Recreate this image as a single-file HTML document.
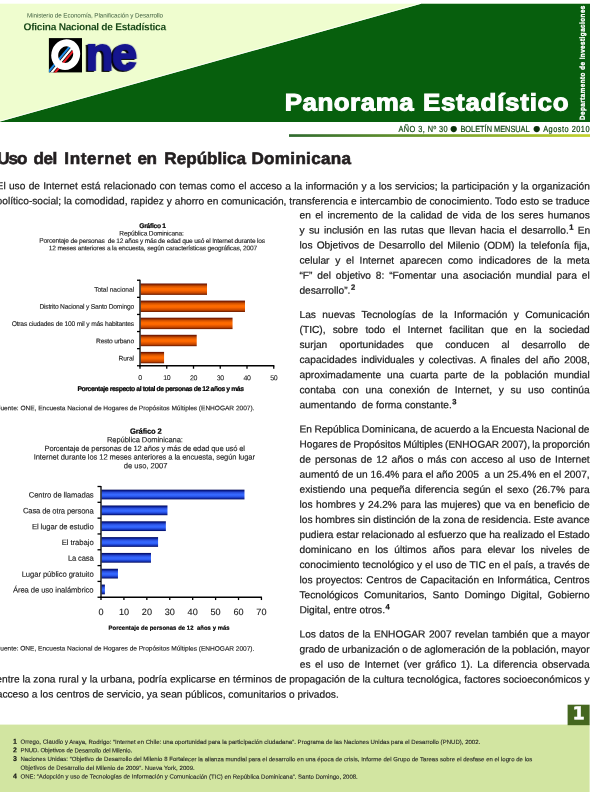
<!DOCTYPE html>
<html lang="es">
<head>
<meta charset="utf-8">
<title>Panorama Estadístico</title>
<style>
html,body{margin:0;padding:0;background:#fff;}
#pg{position:relative;width:612px;height:792px;overflow:hidden;background:#fff;font-family:"Liberation Sans",sans-serif;}
svg{position:absolute;left:0;top:0;}
svg text{font-family:"Liberation Sans",sans-serif;}
</style>
</head>
<body>
<div id="pg">
<svg width="612" height="792" viewBox="0 0 612 792">
  <defs>
    <linearGradient id="lg" x1="0" y1="0" x2="1" y2="0">
      <stop offset="0" stop-color="#2f6a2f"/>
      <stop offset="0.45" stop-color="#6e9a2c"/>
      <stop offset="1" stop-color="#c3d22e"/>
    </linearGradient>
    <clipPath id="sq"><rect x="48.9" y="38.1" width="33.1" height="34.3"/></clipPath>
    <clipPath id="hole"><ellipse cx="65.7" cy="54.6" rx="7.3" ry="8.4" transform="rotate(22 65.7 54.6)"/></clipPath>
  </defs>
  <!-- header -->
  <rect x="0" y="3.7" width="590" height="118.3" fill="#effdcf"/>
  <polygon points="0,121.5 421,3.7 590,3.7 590,122 0,122" fill="#075f0d"/>
  <line x1="-1" y1="121.4" x2="421" y2="3.3" stroke="#fff" stroke-width="0.9"/>
  <rect x="289" y="134.2" width="301" height="2.7" fill="url(#lg)"/>
  <!-- logo -->
  <rect x="48.9" y="38.1" width="33.1" height="34.3" fill="#000"/>
  <g clip-path="url(#sq)">
    <g stroke-width="2.1" stroke-linecap="butt">
      <line x1="47.5" y1="73" x2="72" y2="43.8" stroke="#1e8be6"/>
      <line x1="50.1" y1="74.2" x2="74.6" y2="45" stroke="#fff"/>
      <line x1="52.7" y1="75.4" x2="77.2" y2="46.2" stroke="#ee1c25"/>
    </g>
    <ellipse cx="65.7" cy="54.6" rx="10.8" ry="12" transform="rotate(22 65.7 54.6)" fill="none" stroke="#fff" stroke-width="7"/>
  </g>
  <!-- footer -->
  <rect x="0" y="724.6" width="589.6" height="67.4" fill="#d2e5a1"/>
  <rect x="567.6" y="704.7" width="22" height="20.5" fill="#45671f"/>
</svg>
<svg width="612" height="792" viewBox="0 0 612 792">
<defs>
<linearGradient id="og" x1="0" y1="0" x2="0" y2="1">
<stop offset="0" stop-color="#5a0800"/><stop offset="0.1" stop-color="#8a2800"/><stop offset="0.26" stop-color="#d85400"/><stop offset="0.45" stop-color="#ff6c00"/><stop offset="0.6" stop-color="#fb6600"/><stop offset="0.84" stop-color="#c44600"/><stop offset="0.93" stop-color="#8a2a00"/><stop offset="1" stop-color="#6a1c00"/>
</linearGradient>
<linearGradient id="bg" x1="0" y1="0" x2="0" y2="1">
<stop offset="0" stop-color="#00085a"/><stop offset="0.12" stop-color="#0a1e90"/><stop offset="0.3" stop-color="#2a50e0"/><stop offset="0.5" stop-color="#3669ff"/><stop offset="0.66" stop-color="#2f60f8"/><stop offset="0.85" stop-color="#1634b8"/><stop offset="0.94" stop-color="#081a80"/><stop offset="1" stop-color="#00085a"/>
</linearGradient>
</defs>
<rect x="140.60" y="283.50" width="66.41" height="11.4" fill="url(#og)"/>
<rect x="140.60" y="300.60" width="104.39" height="11.4" fill="url(#og)"/>
<rect x="140.60" y="317.70" width="91.95" height="11.4" fill="url(#og)"/>
<rect x="140.60" y="334.80" width="56.11" height="11.4" fill="url(#og)"/>
<rect x="140.60" y="351.90" width="23.47" height="11.4" fill="url(#og)"/>
<g stroke="#000" stroke-width="1.3" fill="none">
<path d="M140.0 279.65V366.35"/>
<path d="M137.00 280.25H140.0"/>
<path d="M137.00 297.35H140.0"/>
<path d="M137.00 314.45H140.0"/>
<path d="M137.00 331.55H140.0"/>
<path d="M137.00 348.65H140.0"/>
<path d="M137.00 365.75H140.0"/>
<path d="M139.4 365.75H274.35"/>
<path d="M140.00 365.75V368.75"/>
<path d="M166.75 365.75V368.75"/>
<path d="M193.50 365.75V368.75"/>
<path d="M220.25 365.75V368.75"/>
<path d="M247.00 365.75V368.75"/>
<path d="M273.75 365.75V368.75"/>
</g>
<rect x="101.50" y="489.65" width="142.98" height="9.75" fill="url(#bg)"/>
<rect x="101.50" y="505.47" width="65.97" height="9.75" fill="url(#bg)"/>
<rect x="101.50" y="521.29" width="64.36" height="9.75" fill="url(#bg)"/>
<rect x="101.50" y="537.11" width="56.57" height="9.75" fill="url(#bg)"/>
<rect x="101.50" y="552.93" width="49.47" height="9.75" fill="url(#bg)"/>
<rect x="101.50" y="568.75" width="16.46" height="9.75" fill="url(#bg)"/>
<rect x="101.50" y="584.57" width="3.40" height="9.75" fill="url(#bg)"/>
<g stroke="#000" stroke-width="1.3" fill="none">
<path d="M101.0 486.0V597.74"/>
<path d="M97.50 486.50H101.0"/>
<path d="M97.50 502.32H101.0"/>
<path d="M97.50 518.14H101.0"/>
<path d="M97.50 533.96H101.0"/>
<path d="M97.50 549.78H101.0"/>
<path d="M97.50 565.60H101.0"/>
<path d="M97.50 581.42H101.0"/>
<path d="M97.50 597.24H101.0"/>
<path d="M100.5 597.24H261.94"/>
<path d="M101.00 597.24V600.04"/>
<path d="M123.92 597.24V600.04"/>
<path d="M146.84 597.24V600.04"/>
<path d="M169.76 597.24V600.04"/>
<path d="M192.68 597.24V600.04"/>
<path d="M215.60 597.24V600.04"/>
<path d="M238.52 597.24V600.04"/>
<path d="M261.44 597.24V600.04"/>
</g>
</svg>
<svg id="tx" width="612" height="792" viewBox="0 0 612 792" style="transform:rotate(0.03deg)">
<text x="-3.50" y="189.40" font-size="10.2" fill="#1d1d1d" stroke="#1d1d1d" stroke-width="0.22" style="word-spacing:0.452px;">El uso de Internet está relacionado con temas como el acceso a la información y a los servicios; la participación y la organización</text>
<text x="-3.50" y="204.46" font-size="10.2" fill="#1d1d1d" stroke="#1d1d1d" stroke-width="0.22" style="word-spacing:0.065px;">político-social; la comodidad, rapidez y ahorro en comunicación, transferencia e intercambio de conocimiento. Todo esto se traduce</text>
<text x="299.40" y="218.45" font-size="10.2" fill="#1d1d1d" stroke="#1d1d1d" stroke-width="0.22" style="word-spacing:1.524px;">en el incremento de la calidad de vida de los seres humanos</text>
<text x="299.40" y="233.51" font-size="10.2" fill="#1d1d1d" stroke="#1d1d1d" stroke-width="0.22" style="word-spacing:1.500px;">y su inclusión en las rutas que llevan hacia el desarrollo.<tspan dx="0.5" dy="-4.0" font-size="7.6" font-weight="bold" stroke-width="0.25">1</tspan><tspan dy="4.0"> En</tspan></text>
<text x="299.40" y="248.57" font-size="10.2" fill="#1d1d1d" stroke="#1d1d1d" stroke-width="0.22" style="word-spacing:1.365px;">los Objetivos de Desarrollo del Milenio (ODM) la telefonía fija,</text>
<text x="299.40" y="263.63" font-size="10.2" fill="#1d1d1d" stroke="#1d1d1d" stroke-width="0.22" style="word-spacing:2.870px;">celular y el Internet aparecen como indicadores de la meta</text>
<text x="299.40" y="278.69" font-size="10.2" fill="#1d1d1d" stroke="#1d1d1d" stroke-width="0.22" style="word-spacing:2.054px;">“F” del objetivo 8: “Fomentar una asociación mundial para el</text>
<text x="299.40" y="293.75" font-size="10.2" fill="#1d1d1d" stroke="#1d1d1d" stroke-width="0.22">desarrollo”.<tspan dx="0.5" dy="-4.0" font-size="7.6" font-weight="bold" stroke-width="0.25">2</tspan></text>
<text x="299.50" y="317.90" font-size="10.2" fill="#1d1d1d" stroke="#1d1d1d" stroke-width="0.22" style="word-spacing:3.542px;">Las nuevas Tecnologías de la Información y Comunicación</text>
<text x="299.50" y="332.96" font-size="10.2" fill="#1d1d1d" stroke="#1d1d1d" stroke-width="0.22" style="word-spacing:4.369px;">(TIC), sobre todo el Internet facilitan que en la sociedad</text>
<text x="299.50" y="348.02" font-size="10.2" fill="#1d1d1d" stroke="#1d1d1d" stroke-width="0.22" style="word-spacing:9.286px;">surjan oportunidades que conducen al desarrollo de</text>
<text x="299.50" y="363.08" font-size="10.2" fill="#1d1d1d" stroke="#1d1d1d" stroke-width="0.22" style="word-spacing:1.656px;">capacidades individuales y colectivas. A finales del año 2008,</text>
<text x="299.50" y="378.14" font-size="10.2" fill="#1d1d1d" stroke="#1d1d1d" stroke-width="0.22" style="word-spacing:3.107px;">aproximadamente una cuarta parte de la población mundial</text>
<text x="299.50" y="393.20" font-size="10.2" fill="#1d1d1d" stroke="#1d1d1d" stroke-width="0.22" style="word-spacing:3.863px;">contaba con una conexión de Internet, y su uso continúa</text>
<text x="299.50" y="408.26" font-size="10.2" fill="#1d1d1d" stroke="#1d1d1d" stroke-width="0.22">aumentando  de forma constante.<tspan dx="0.5" dy="-4.0" font-size="7.6" font-weight="bold" stroke-width="0.25">3</tspan></text>
<text transform="translate(299.60 432.55) scale(0.9953252991379682 1)" font-size="10.2" fill="#1d1d1d" stroke="#1d1d1d" stroke-width="0.22" style="word-spacing:-0.400px;">En República Dominicana, de acuerdo a la Encuesta Nacional de</text>
<text transform="translate(299.60 447.61) scale(0.9832440104221832 1)" font-size="10.2" fill="#1d1d1d" stroke="#1d1d1d" stroke-width="0.22" style="word-spacing:-0.400px;">Hogares de Propósitos Múltiples (ENHOGAR 2007), la proporción</text>
<text x="299.60" y="462.67" font-size="10.2" fill="#1d1d1d" stroke="#1d1d1d" stroke-width="0.22" style="word-spacing:1.191px;">de personas de 12 años o más con acceso al uso de Internet</text>
<text x="299.60" y="477.73" font-size="10.2" fill="#1d1d1d" stroke="#1d1d1d" stroke-width="0.22" style="word-spacing:0.046px;">aumentó de un 16.4% para el año 2005  a un 25.4% en el 2007,</text>
<text x="299.60" y="492.79" font-size="10.2" fill="#1d1d1d" stroke="#1d1d1d" stroke-width="0.22" style="word-spacing:1.358px;">existiendo una pequeña diferencia según el sexo (26.7% para</text>
<text x="299.60" y="507.85" font-size="10.2" fill="#1d1d1d" stroke="#1d1d1d" stroke-width="0.22" style="word-spacing:0.735px;">los hombres y 24.2% para las mujeres) que va en beneficio de</text>
<text x="299.60" y="522.91" font-size="10.2" fill="#1d1d1d" stroke="#1d1d1d" stroke-width="0.22" style="word-spacing:-0.156px;">los hombres sin distinción de la zona de residencia. Este avance</text>
<text x="299.60" y="537.97" font-size="10.2" fill="#1d1d1d" stroke="#1d1d1d" stroke-width="0.22" style="word-spacing:-0.112px;">pudiera estar relacionado al esfuerzo que ha realizado el Estado</text>
<text x="299.60" y="553.03" font-size="10.2" fill="#1d1d1d" stroke="#1d1d1d" stroke-width="0.22" style="word-spacing:3.289px;">dominicano en los últimos años para elevar los niveles de</text>
<text x="299.60" y="568.09" font-size="10.2" fill="#1d1d1d" stroke="#1d1d1d" stroke-width="0.22" style="word-spacing:0.123px;">conocimiento tecnológico y el uso de TIC en el país, a través de</text>
<text x="299.60" y="583.15" font-size="10.2" fill="#1d1d1d" stroke="#1d1d1d" stroke-width="0.22" style="word-spacing:0.590px;">los proyectos: Centros de Capacitación en Informática, Centros</text>
<text x="299.60" y="598.21" font-size="10.2" fill="#1d1d1d" stroke="#1d1d1d" stroke-width="0.22" style="word-spacing:2.751px;">Tecnológicos Comunitarios, Santo Domingo Digital, Gobierno</text>
<text x="299.60" y="613.27" font-size="10.2" fill="#1d1d1d" stroke="#1d1d1d" stroke-width="0.22">Digital, entre otros.<tspan dx="0.5" dy="-4.0" font-size="7.6" font-weight="bold" stroke-width="0.25">4</tspan></text>
<text x="299.60" y="637.55" font-size="10.2" fill="#1d1d1d" stroke="#1d1d1d" stroke-width="0.22" style="word-spacing:0.638px;">Los datos de la ENHOGAR 2007 revelan también que a mayor</text>
<text x="299.60" y="652.61" font-size="10.2" fill="#1d1d1d" stroke="#1d1d1d" stroke-width="0.22" style="word-spacing:-0.300px;">grado de urbanización o de aglomeración de la población, mayor</text>
<text x="299.90" y="667.67" font-size="10.2" fill="#1d1d1d" stroke="#1d1d1d" stroke-width="0.22" style="word-spacing:1.741px;">es el uso de Internet (ver gráfico 1). La diferencia observada</text>
<text x="-3.50" y="682.60" font-size="10.2" fill="#1d1d1d" stroke="#1d1d1d" stroke-width="0.22" style="word-spacing:0.104px;">entre la zona rural y la urbana, podría explicarse en términos de propagación de la cultura tecnológica, factores socioeconómicos y</text>
<text x="-3.10" y="697.70" font-size="10.2" fill="#1d1d1d" stroke="#1d1d1d" stroke-width="0.22">acceso a los centros de servicio, ya sean públicos, comunitarios o privados.</text>
<text transform="translate(-2.80 164.10) scale(1.03 1)" font-size="16.6" fill="#231f20" font-weight="bold" stroke="#231f20" stroke-width="0.6" style="letter-spacing:-1.017px;">Uso</text>
<text transform="translate(33.30 164.10) scale(1.03 1)" font-size="16.6" fill="#231f20" font-weight="bold" stroke="#231f20" stroke-width="0.6" style="letter-spacing:-0.389px;">del</text>
<text transform="translate(64.20 164.10) scale(1.03 1)" font-size="16.6" fill="#231f20" font-weight="bold" stroke="#231f20" stroke-width="0.6" style="letter-spacing:0.563px;">Internet</text>
<text transform="translate(137.45 164.10) scale(1.03 1)" font-size="16.6" fill="#231f20" font-weight="bold" stroke="#231f20" stroke-width="0.6" style="letter-spacing:-0.496px;">en</text>
<text transform="translate(164.20 164.10) scale(1.03 1)" font-size="16.6" fill="#231f20" font-weight="bold" stroke="#231f20" stroke-width="0.6" style="letter-spacing:0.008px;">República</text>
<text transform="translate(251.30 164.10) scale(1.03 1)" font-size="16.6" fill="#231f20" font-weight="bold" stroke="#231f20" stroke-width="0.6" style="letter-spacing:0.298px;">Dominicana</text>
<text x="26.80" y="17.60" font-size="6.3" fill="#3b5b3b" style="letter-spacing:-0.082px;">Ministerio de Economía, Planificación y Desarrollo</text>
<text x="23.40" y="30.40" font-size="10.2" fill="#1a4a1a" font-weight="bold" style="letter-spacing:-0.286px;">Oficina Nacional de Estadística</text>
<text transform="translate(284.50 110.40) scale(1.08 1)" font-size="24.0" fill="#fff" font-weight="bold" stroke="#fff" stroke-width="1.0" style="letter-spacing:0.489px;">Panorama</text>
<text transform="translate(422.80 110.40) scale(1.08 1)" font-size="24.0" fill="#fff" font-weight="bold" stroke="#fff" stroke-width="1.0" style="letter-spacing:0.681px;">Estadístico</text>
<text transform="translate(398.30 132.00) scale(0.84 1)" font-size="8.8" fill="#0c430c" stroke="#0c430c" stroke-width="0.2" style="letter-spacing:0.507px;">AÑO 3, Nº 30</text>
<text transform="translate(460.30 132.00) scale(0.84 1)" font-size="8.8" fill="#0c430c" stroke="#0c430c" stroke-width="0.2" style="letter-spacing:-0.006px;">BOLETÍN MENSUAL</text>
<text transform="translate(543.00 132.00) scale(0.84 1)" font-size="8.8" fill="#0c430c" stroke="#0c430c" stroke-width="0.2" style="letter-spacing:0.592px;">Agosto 2010</text>
<text x="453.50" y="133.10" font-size="14.8" fill="#0a300a" text-anchor="middle">●</text>
<text x="536.60" y="133.10" font-size="14.8" fill="#0a300a" text-anchor="middle">●</text>
<text transform="translate(584.50 119.80) rotate(-90) scale(0.88 1)" font-size="7.1" fill="#fff" font-weight="bold" stroke="#fff" stroke-width="0.4" style="letter-spacing:0.563px;">Departamento de Investigaciones</text>
<text x="85.50" y="69.90" font-size="45.7" fill="#15158f" font-weight="bold" stroke="#15158f" stroke-width="1.8" style="filter:drop-shadow(-1.3px 1.3px 0 #000);letter-spacing:-1.728px;">ne</text>
<text x="578.90" y="719.10" font-size="17.6" fill="#fff" font-weight="bold" text-anchor="middle" stroke="#fff" stroke-width="0.5" style="font-family:DejaVu Sans, sans-serif;">1</text>
<text x="13.30" y="743.85" font-size="7.0" fill="#111" font-weight="bold" stroke="#111" stroke-width="0.15">1</text>
<text x="20.70" y="744.00" font-size="6.0" fill="#222" stroke="#222" stroke-width="0.1" style="letter-spacing:0.025px;">Orrego, Claudio y Araya, Rodrigo: “Internet en Chile: una oportunidad para la participación ciudadana”. Programa de las Naciones Unidas para el Desarrollo (PNUD), 2002.</text>
<text x="13.30" y="752.35" font-size="7.0" fill="#111" font-weight="bold" stroke="#111" stroke-width="0.15">2</text>
<text x="20.70" y="752.50" font-size="6.0" fill="#222" stroke="#222" stroke-width="0.1" style="letter-spacing:-0.071px;">PNUD. Objetivos de Desarrollo del Milenio.</text>
<text x="13.30" y="761.05" font-size="7.0" fill="#111" font-weight="bold" stroke="#111" stroke-width="0.15">3</text>
<text x="20.70" y="761.20" font-size="6.0" fill="#222" stroke="#222" stroke-width="0.1" style="letter-spacing:0.030px;">Naciones Unidas: “Objetivo de Desarrollo del Milenio 8 Fortalecer la alianza mundial para el desarrollo en una época de crisis, Informe del Grupo de Tareas sobre el desfase en el logro de los</text>
<text x="20.70" y="770.00" font-size="6.0" fill="#222" stroke="#222" stroke-width="0.1" style="letter-spacing:0.062px;">Objetivos de Desarrollo del Milenio de 2009”. Nueva York, 2009.</text>
<text x="13.30" y="778.55" font-size="7.0" fill="#111" font-weight="bold" stroke="#111" stroke-width="0.15">4</text>
<text x="20.70" y="778.70" font-size="6.0" fill="#222" stroke="#222" stroke-width="0.1" style="letter-spacing:-0.001px;">ONE: “Adopción y uso de Tecnologías de Información y Comunicación (TIC) en República Dominicana”. Santo Domingo, 2008.</text>
<text x="139.25" y="228.20" font-size="6.7" fill="#000" font-weight="bold" stroke="#000" stroke-width="0.2" style="letter-spacing:-0.294px;">Gráfico 1</text>
<text x="119.25" y="235.60" font-size="6.6" fill="#1a1a1a" stroke="#1a1a1a" stroke-width="0.12" style="letter-spacing:-0.166px;">República Dominicana:</text>
<text x="39.25" y="243.00" font-size="6.6" fill="#1a1a1a" stroke="#1a1a1a" stroke-width="0.12" style="letter-spacing:-0.205px;">Porcentaje de personas  de 12 años y más de edad que usó el Internet durante los</text>
<text x="48.75" y="250.30" font-size="6.6" fill="#1a1a1a" stroke="#1a1a1a" stroke-width="0.12" style="letter-spacing:-0.175px;">12 meses anteriores a la encuesta, según características geográficas, 2007</text>
<text x="94.10" y="291.75" font-size="6.7" fill="#1a1a1a" stroke="#1a1a1a" stroke-width="0.12" style="letter-spacing:-0.070px;">Total nacional</text>
<text x="39.40" y="308.95" font-size="6.7" fill="#1a1a1a" stroke="#1a1a1a" stroke-width="0.12" style="letter-spacing:-0.224px;">Distrito Nacional y Santo Domingo</text>
<text x="11.60" y="326.15" font-size="6.7" fill="#1a1a1a" stroke="#1a1a1a" stroke-width="0.12" style="letter-spacing:-0.186px;">Otras ciudades de 100 mil y más habitantes</text>
<text x="96.00" y="343.35" font-size="6.7" fill="#1a1a1a" stroke="#1a1a1a" stroke-width="0.12" style="letter-spacing:-0.187px;">Resto urbano</text>
<text x="118.40" y="360.55" font-size="6.7" fill="#1a1a1a" stroke="#1a1a1a" stroke-width="0.12" style="letter-spacing:-0.071px;">Rural</text>
<text x="140.00" y="380.20" font-size="7.0" fill="#1a1a1a" text-anchor="middle" stroke="#1a1a1a" stroke-width="0.08" style="letter-spacing:-0.3px;">0</text>
<text x="166.75" y="380.20" font-size="7.0" fill="#1a1a1a" text-anchor="middle" stroke="#1a1a1a" stroke-width="0.08" style="letter-spacing:-0.3px;">10</text>
<text x="193.50" y="380.20" font-size="7.0" fill="#1a1a1a" text-anchor="middle" stroke="#1a1a1a" stroke-width="0.08" style="letter-spacing:-0.3px;">20</text>
<text x="220.25" y="380.20" font-size="7.0" fill="#1a1a1a" text-anchor="middle" stroke="#1a1a1a" stroke-width="0.08" style="letter-spacing:-0.3px;">30</text>
<text x="247.00" y="380.20" font-size="7.0" fill="#1a1a1a" text-anchor="middle" stroke="#1a1a1a" stroke-width="0.08" style="letter-spacing:-0.3px;">40</text>
<text x="273.75" y="380.20" font-size="7.0" fill="#1a1a1a" text-anchor="middle" stroke="#1a1a1a" stroke-width="0.08" style="letter-spacing:-0.3px;">50</text>
<text x="77.40" y="391.00" font-size="6.8" fill="#000" font-weight="bold" stroke="#000" stroke-width="0.2" style="letter-spacing:-0.398px;">Porcentaje respecto al total de personas de 12 años y más</text>
<text x="-3.50" y="410.40" font-size="6.6" fill="#1a1a1a" stroke="#1a1a1a" stroke-width="0.12" style="letter-spacing:-0.038px;">Fuente: ONE, Encuesta Nacional de Hogares de Propósitos Múltiples (ENHOGAR 2007).</text>
<text x="130.00" y="433.85" font-size="7.6" fill="#000" font-weight="bold" stroke="#000" stroke-width="0.2" style="letter-spacing:-0.146px;">Gráfico 2</text>
<text x="107.00" y="442.45" font-size="7.6" fill="#1a1a1a" stroke="#1a1a1a" stroke-width="0.12" style="letter-spacing:-0.105px;">República Dominicana:</text>
<text x="44.50" y="451.05" font-size="7.6" fill="#1a1a1a" stroke="#1a1a1a" stroke-width="0.12" style="letter-spacing:-0.149px;">Porcentaje de personas de 12 años y más de edad que usó el</text>
<text x="33.75" y="459.65" font-size="7.6" fill="#1a1a1a" stroke="#1a1a1a" stroke-width="0.12" style="letter-spacing:-0.095px;">Internet durante los 12 meses anteriores a la encuesta, según lugar</text>
<text x="123.75" y="468.25" font-size="7.6" fill="#1a1a1a" stroke="#1a1a1a" stroke-width="0.12" style="letter-spacing:-0.016px;">de uso, 2007</text>
<text x="28.75" y="497.70" font-size="7.7" fill="#1a1a1a" stroke="#1a1a1a" stroke-width="0.12" style="letter-spacing:-0.098px;">Centro de llamadas</text>
<text x="23.00" y="513.52" font-size="7.7" fill="#1a1a1a" stroke="#1a1a1a" stroke-width="0.12" style="letter-spacing:-0.168px;">Casa de otra persona</text>
<text x="32.00" y="529.34" font-size="7.7" fill="#1a1a1a" stroke="#1a1a1a" stroke-width="0.12" style="letter-spacing:-0.108px;">El lugar de estudio</text>
<text x="61.75" y="545.16" font-size="7.7" fill="#1a1a1a" stroke="#1a1a1a" stroke-width="0.12" style="letter-spacing:-0.054px;">El trabajo</text>
<text x="68.00" y="560.98" font-size="7.7" fill="#1a1a1a" stroke="#1a1a1a" stroke-width="0.12" style="letter-spacing:-0.198px;">La casa</text>
<text x="21.75" y="576.80" font-size="7.7" fill="#1a1a1a" stroke="#1a1a1a" stroke-width="0.12" style="letter-spacing:-0.092px;">Lugar público gratuito</text>
<text x="13.00" y="592.62" font-size="7.7" fill="#1a1a1a" stroke="#1a1a1a" stroke-width="0.12" style="letter-spacing:-0.098px;">Área de uso inalámbrico</text>
<text x="101.20" y="615.00" font-size="9.1" fill="#1a1a1a" text-anchor="middle" stroke="#1a1a1a" stroke-width="0.1">0</text>
<text x="124.10" y="615.00" font-size="9.1" fill="#1a1a1a" text-anchor="middle" stroke="#1a1a1a" stroke-width="0.1">10</text>
<text x="147.00" y="615.00" font-size="9.1" fill="#1a1a1a" text-anchor="middle" stroke="#1a1a1a" stroke-width="0.1">20</text>
<text x="169.90" y="615.00" font-size="9.1" fill="#1a1a1a" text-anchor="middle" stroke="#1a1a1a" stroke-width="0.1">30</text>
<text x="192.80" y="615.00" font-size="9.1" fill="#1a1a1a" text-anchor="middle" stroke="#1a1a1a" stroke-width="0.1">40</text>
<text x="215.70" y="615.00" font-size="9.1" fill="#1a1a1a" text-anchor="middle" stroke="#1a1a1a" stroke-width="0.1">50</text>
<text x="238.60" y="615.00" font-size="9.1" fill="#1a1a1a" text-anchor="middle" stroke="#1a1a1a" stroke-width="0.1">60</text>
<text x="261.50" y="615.00" font-size="9.1" fill="#1a1a1a" text-anchor="middle" stroke="#1a1a1a" stroke-width="0.1">70</text>
<text x="108.60" y="629.90" font-size="5.9" fill="#000" font-weight="bold" stroke="#000" stroke-width="0.2" style="letter-spacing:0.068px;">Porcentaje de personas de 12  años y más</text>
<text x="-3.50" y="650.70" font-size="6.6" fill="#1a1a1a" stroke="#1a1a1a" stroke-width="0.12" style="letter-spacing:-0.038px;">Fuente: ONE, Encuesta Nacional de Hogares de Propósitos Múltiples (ENHOGAR 2007).</text>
</svg>
</div>
</body>
</html>
